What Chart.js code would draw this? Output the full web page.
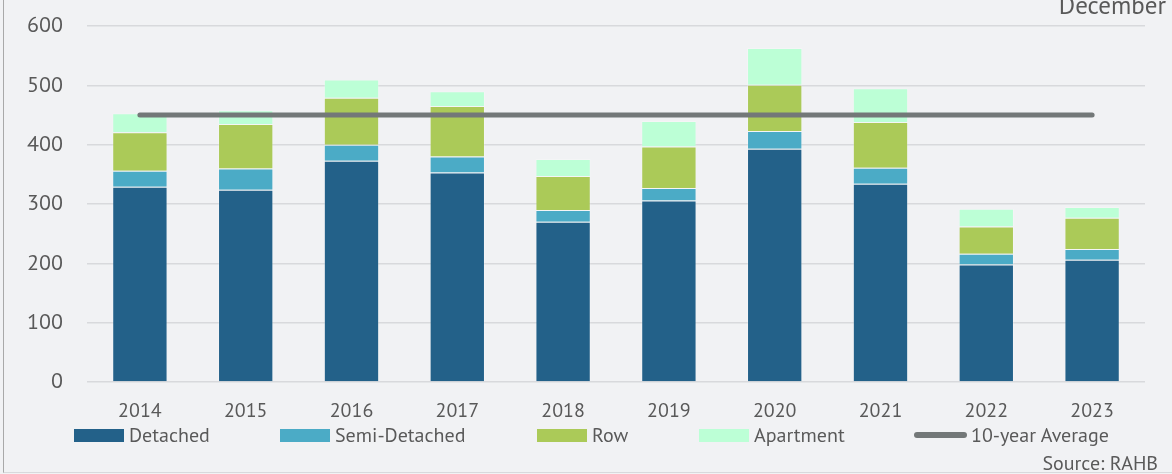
<!DOCTYPE html>
<html>
<head>
<meta charset="utf-8">
<script src="https://cdn.jsdelivr.net/npm/chart.js@4.4.1/dist/chart.umd.min.js"></script>
<style>
  html, body { margin: 0; padding: 0; background: #f1f2f4; }
  #wrap { position: relative; width: 1172px; height: 474px; overflow: hidden; }
  #frame { position: absolute; left: 3px; top: -2px; width: 1180px; height: 475px;
           border-left: 1.5px solid #a9a9a9; border-bottom: 1.5px solid #d8d9dc; box-sizing: border-box; }
  canvas { position: absolute; left: 0; top: 0; }
  .txt { position: absolute; font-family: "PT Sans", Lato, sans-serif; color: #595959; font-size: 20px; white-space: nowrap; }
  #month { right: 6px; top: -7px; font-size: 25px; line-height: 25px; }
  #source { right: 14px; top: 452px; line-height: 22px; }
  #legend { left: 0; top: 424px; width: 1172px; height: 22px; line-height: 22px; }
  .item { position: absolute; top: 0; display: flex; align-items: center; gap: 5px; }
  .sw { display: inline-block; width: 50px; height: 13px; }
  .ln { display: inline-block; width: 53px; height: 6px; border-radius: 3px; margin-right: -1px; }
</style>
</head>
<body>
<div id="wrap">
  <canvas id="housing" width="1172" height="474"></canvas>
  <div id="frame"></div>
  <div id="month" class="txt">December</div>
  <div id="legend" class="txt"></div>
  <div id="source" class="txt">Source: RAHB</div>
</div>
<script>
const years = ['2014', '2015', '2016', '2017', '2018', '2019', '2020', '2021', '2022', '2023'];
const detached = [329, 324, 373, 353, 270, 306, 393, 334, 198, 206];
const semiDetached = [27, 36, 27, 27, 20, 21, 30, 27, 18, 18];
const row = [65, 75, 79, 85, 57, 70, 78, 77, 46, 53];
const apartment = [32, 23, 31, 25, 29, 43, 62, 57, 30, 18];
const tenYearAverage = [450, 450, 450, 450, 450, 450, 450, 450, 450, 450];
const yTicks = [0, 100, 200, 300, 400, 500, 600];

const FONT = '"PT Sans", Lato, sans-serif';
const edge = 'rgba(255,255,255,0.22)';
const legendLeft = [74, 280, 537, 699, 914]; // where each legend entry starts

function barSet(label, data, color) {
    return {
        type: 'bar', label: label, data: data, backgroundColor: color,
        borderColor: edge, borderWidth: 1, stack: 'homes', order: 2
    };
}

const chart = new Chart(document.getElementById('housing'), {
    data: {
        labels: years,
        datasets: [
            barSet('Detached', detached, '#236189'),
            barSet('Semi-Detached', semiDetached, '#4babc6'),
            barSet('Row', row, '#abca58'),
            barSet('Apartment', apartment, '#bcffd6'),
            {
                type: 'line', label: '10-year Average', data: tenYearAverage,
                borderColor: '#737878', backgroundColor: '#737878', borderWidth: 5,
                borderCapStyle: 'round', pointRadius: 0, stack: 'avg', order: 0
            }
        ]
    },
    options: {
        responsive: false,
        animation: false,
        datasets: { bar: { categoryPercentage: 1, barPercentage: 0.523 } },
        layout: { padding: { top: 26, right: 27, bottom: 42, left: 0 } },
        plugins: {
            legend: { display: false },
            tooltip: { enabled: false }
        },
        scales: {
            x: {
                stacked: true,
                grid: { display: false, drawTicks: false },
                border: { display: false },
                ticks: { color: '#595959', padding: 17, font: { family: FONT, size: 20 } },
                afterFit: (s) => { s.height = 50; }
            },
            y: {
                stacked: true,
                min: 0, max: 600,
                afterBuildTicks: (s) => { s.ticks = yTicks.map(v => ({ value: v })); },
                // invisible tick marks give the gap between labels and gridlines
                grid: { color: '#d8d9dc', lineWidth: 1.5, drawTicks: true, tickLength: 24, tickColor: 'rgba(0,0,0,0)' },
                border: { display: false },
                ticks: { color: '#595959', padding: 0, font: { family: FONT, size: 22 } },
                afterFit: (s) => { s.width = 87; }
            }
        }
    }
});

// legend built from the chart's own datasets
const legend = document.getElementById('legend');
chart.data.datasets.forEach((ds, i) => {
    const item = document.createElement('span');
    item.className = 'item';
    item.style.left = legendLeft[i] + 'px';
    const mark = document.createElement('span');
    mark.className = ds.type === 'line' ? 'ln' : 'sw';
    mark.style.background = ds.type === 'line' ? ds.borderColor : ds.backgroundColor;
    const text = document.createElement('span');
    text.textContent = ds.label;
    item.appendChild(mark);
    item.appendChild(text);
    legend.appendChild(item);
});
</script>
</body>
</html>
